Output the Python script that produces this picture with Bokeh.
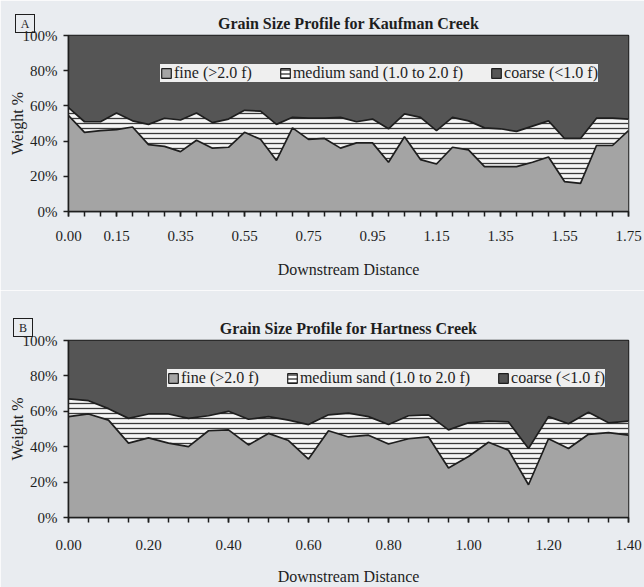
from bokeh.plotting import figure
from bokeh.models import (FixedTicker, CustomJSTickFormatter, NumeralTickFormatter,
                          Legend, LegendItem, Range1d, ColumnDataSource, Div)
from bokeh.layouts import column
from bokeh.embed import file_html
from bokeh.resources import INLINE

# ---------------- data ----------------
# Kaufman Creek (panel A)
dist_a = [0.00, 0.05, 0.10, 0.15, 0.20, 0.25, 0.30, 0.35, 0.40, 0.45, 0.50, 0.55,
          0.60, 0.65, 0.70, 0.75, 0.80, 0.85, 0.90, 0.95, 1.00, 1.05, 1.10, 1.15,
          1.20, 1.25, 1.30, 1.35, 1.40, 1.45, 1.50, 1.55, 1.60, 1.65, 1.70, 1.75]
fine_a = [54.5, 45, 46, 46.5, 48, 38, 37, 34, 40.5, 36, 36.5, 45,
          41, 29, 47.5, 41, 41.5, 36, 39, 39, 28, 42.5, 29.5, 27,
          36.5, 35, 25.5, 25.5, 25.5, 28, 31, 17, 16, 37.5, 37.5, 46]
medium_a = [4.5, 6, 5, 9.5, 3.5, 11.5, 16, 18, 15.5, 14.5, 16, 12.5,
            16, 20.5, 6, 12, 11.5, 17.5, 12, 13.5, 19, 13, 24, 19,
            17, 16.5, 22, 21.5, 20, 20.5, 20.5, 24.5, 25.5, 15.5, 15.5, 6.5]
coarse_a = [41, 49, 49, 44, 48.5, 50.5, 47, 48, 44, 49.5, 47.5, 42.5,
            43, 50.5, 46.5, 47, 47, 46.5, 49, 47.5, 53, 44.5, 46.5, 54,
            46.5, 48.5, 52.5, 53, 54.5, 51.5, 48.5, 58.5, 58.5, 47, 47, 47.5]
xlabels_a = [0.00, 0.15, 0.35, 0.55, 0.75, 0.95, 1.15, 1.35, 1.55, 1.75]

# Hartness Creek (panel B)
dist_b = [0.00, 0.05, 0.10, 0.15, 0.20, 0.25, 0.30, 0.35, 0.40, 0.45, 0.50, 0.55,
          0.60, 0.65, 0.70, 0.75, 0.80, 0.85, 0.90, 0.95, 1.00, 1.05, 1.10, 1.15,
          1.20, 1.25, 1.30, 1.35, 1.40]
fine_b = [57, 58.5, 55, 42, 45, 42, 40, 49, 49.5, 41, 47.5, 43.5,
          33, 49, 45.5, 46.5, 41.5, 44.5, 45.5, 28, 34.5, 42.5, 38, 18.5,
          44.5, 39, 47, 48, 46.5]
medium_b = [10, 7.5, 6.5, 14, 13.5, 16.5, 16, 8.5, 10.5, 14.5, 9.5, 11.5,
            19.5, 9, 13.5, 10.5, 11, 13, 12.5, 21.5, 19, 12, 16, 20.5,
            12.5, 14, 12.5, 5.5, 8]
coarse_b = [33, 34, 38.5, 44, 41.5, 41.5, 44, 42.5, 40, 44.5, 43, 45,
            47.5, 42, 41, 43, 47.5, 42.5, 42, 50.5, 46.5, 45.5, 46, 61,
            43, 47, 40.5, 46.5, 45.5]
xlabels_b = [0.00, 0.20, 0.40, 0.60, 0.80, 1.00, 1.20, 1.40]

series_names = ["fine (>2.0 f)", "medium sand (1.0 to 2.0 f)", "coarse (<1.0 f)"]
ylabels = [0, 20, 40, 60, 80, 100]

# ---------------- style ----------------
BG = "#e9ecf0"
C_FINE = "#a4a4a4"
C_MED = "#f6f6f6"
C_COARSE = "#555555"
INK = "#1e1e1e"
SERIF = "Liberation Serif"
NAN = float("nan")


def make_panel(title, dist, fine, medium, coarse, xlabels, height,
               b_left, b_top, b_bottom, legend_loc, label_standoff,
               xtitle_standoff, title_standoff):
    lower = list(fine)
    upper = [f + m for f, m in zip(fine, medium)]
    total = [u + c for u, c in zip(upper, coarse)]
    src = ColumnDataSource(dict(x=dist, zero=[0] * len(dist), lower=lower,
                                upper=upper, total=total))

    p = figure(width=644, height=height, output_backend="svg", toolbar_location=None,
               x_range=Range1d(dist[0], dist[-1]), y_range=Range1d(0, 100),
               min_border_left=b_left, min_border_right=16,
               min_border_top=b_top, min_border_bottom=b_bottom)
    p.background_fill_color = BG
    p.border_fill_color = BG
    p.outline_line_color = INK
    p.outline_line_width = 1.5
    p.grid.visible = False

    p.title.text = title
    p.title.align = "center"
    p.title.text_font = SERIF
    p.title.text_font_style = "bold"
    p.title.text_font_size = "16px"
    p.title.text_color = INK
    p.title.standoff = title_standoff

    p.varea(x="x", y1="zero", y2="lower", source=src, fill_color=C_FINE)
    p.varea(x="x", y1="lower", y2="upper", source=src, fill_color=C_MED,
            hatch_pattern="-", hatch_color="#3a3a3a", hatch_scale=5, hatch_weight=1.3)
    p.varea(x="x", y1="upper", y2="total", source=src, fill_color=C_COARSE)
    p.line(x="x", y="lower", source=src, line_color=INK, line_width=1.7)
    p.line(x="x", y="upper", source=src, line_color=INK, line_width=1.7)

    # legend swatches (renderers with no visible geometry)
    def sw():
        return ColumnDataSource(dict(left=[NAN], right=[NAN], top=[NAN], bottom=[NAN]))
    r1 = p.quad(source=sw(), left="left", right="right", top="top", bottom="bottom",
                fill_color=C_FINE, line_color=INK, line_width=1.2)
    r2 = p.quad(source=sw(), left="left", right="right", top="top", bottom="bottom",
                fill_color="white", line_color=INK, line_width=1.2,
                hatch_pattern="-", hatch_color=INK, hatch_scale=4, hatch_weight=1.2)
    r3 = p.quad(source=sw(), left="left", right="right", top="top", bottom="bottom",
                fill_color=C_COARSE, line_color=INK, line_width=1.2)
    legend = Legend(items=[LegendItem(label=series_names[0], renderers=[r1]),
                           LegendItem(label=series_names[1], renderers=[r2]),
                           LegendItem(label=series_names[2], renderers=[r3])],
                    orientation="horizontal", location=legend_loc,
                    background_fill_color="#efefef", background_fill_alpha=1.0,
                    border_line_color=None, label_text_font=SERIF,
                    label_text_font_size="16px", label_text_color=INK,
                    glyph_width=12, glyph_height=12, label_standoff=2,
                    spacing=27, padding=8, margin=0, label_height=18)
    p.add_layout(legend)

    # axes
    xa = p.xaxis[0]
    xa.ticker = FixedTicker(ticks=xlabels, minor_ticks=dist)
    xa.formatter = NumeralTickFormatter(format="0.00")
    ya = p.yaxis[0]
    ya.ticker = FixedTicker(ticks=ylabels)
    ya.formatter = CustomJSTickFormatter(code="return tick + '%';")
    for ax in (xa, ya):
        ax.axis_line_color = INK
        ax.axis_line_width = 1.5
        ax.major_tick_line_color = INK
        ax.major_tick_line_width = 1.5
        ax.major_tick_in = 0
        ax.major_tick_out = 5
        ax.minor_tick_line_color = INK
        ax.minor_tick_line_width = 1.5
        ax.minor_tick_in = 0
        ax.minor_tick_out = 5
        ax.major_label_text_font = SERIF
        ax.major_label_text_font_size = "15px"
        ax.major_label_text_color = INK
        ax.axis_label_text_font = SERIF
        ax.axis_label_text_font_size = "16px"
        ax.axis_label_text_font_style = "normal"
        ax.axis_label_text_color = INK
    ya.minor_tick_line_color = None
    xa.major_label_standoff = label_standoff
    ya.major_label_standoff = 6
    xa.axis_label = "Downstream Distance"
    xa.axis_label_standoff = xtitle_standoff
    ya.axis_label = "Weight %"
    ya.axis_label_standoff = -6
    return p


def tag_box(letter, left, top):
    return Div(text=letter, width=22, height=21,
               styles={"position": "absolute", "left": f"{left}px", "top": f"{top}px",
                       "width": "20px", "height": "19px", "border": f"1.2px solid {INK}",
                       "font-family": SERIF, "font-size": "12px", "color": INK,
                       "text-align": "center", "line-height": "19px", "z-index": "10",
                       "background": "transparent"})


pA = make_panel("Grain Size Profile for Kaufman Creek", dist_a, fine_a, medium_a,
                coarse_a, xlabels_a, height=290, b_left=68, b_top=35, b_bottom=79,
                legend_loc=(92, 129), label_standoff=14, xtitle_standoff=17,
                title_standoff=8)
pB = make_panel("Grain Size Profile for Hartness Creek", dist_b, fine_b, medium_b,
                coarse_b, xlabels_b, height=297, b_left=67, b_top=50, b_bottom=69,
                legend_loc=(99, 130), label_standoff=17, xtitle_standoff=15,
                title_standoff=8)

layout = column(pA, pB, tag_box("A", 10, 9), tag_box("B", 8, 313), spacing=0)
open("out.html", "w").write(file_html(layout, INLINE))
